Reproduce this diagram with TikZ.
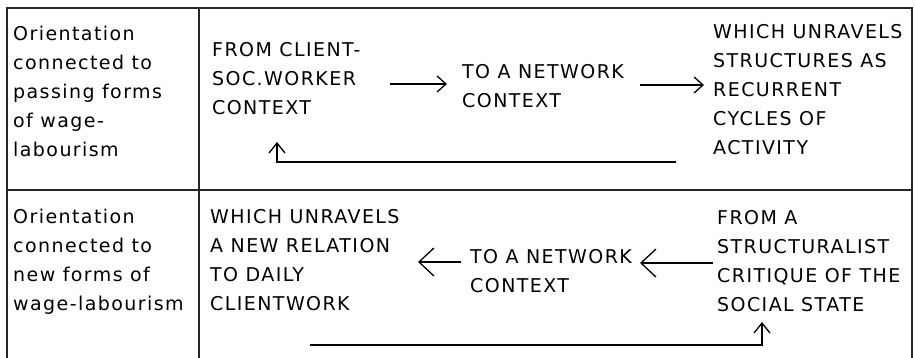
\documentclass[tikz,border=0pt]{standalone}
\usepackage{fontspec}
\newfontfamily\diafont[LetterSpace=7.5]{DejaVu Sans}
\usetikzlibrary{arrows.meta}
\begin{document}
\begin{tikzpicture}[x=1pt,y=-1pt,
  txt/.style={anchor=base west,inner sep=0pt,align=left,font=\diafont\fontsize{19}{29}\selectfont},
  rule/.style={line width=1.6pt,draw=black!85},
  arrsmall/.style={line width=1.3pt,-{Straight Barb[length=9pt,width=16pt,line width=1.3pt]}},
  arrbig/.style={line width=1.3pt,-{Straight Barb[length=15pt,width=28pt,line width=1.3pt]}},
  arrup/.style={line width=1.3pt,-{Straight Barb[length=10pt,width=16pt,line width=1.3pt]}}]
\useasboundingbox (0,0) rectangle (915,358);
% table rules
\draw[rule] (7,358) -- (7,8) -- (912,8) -- (912,358);
\draw[rule] (199,8) -- (199,358);
\draw[rule] (7,190) -- (912,190);
% top row (positions are the baselines of the last lines)
\node[txt] (o1) at (13,157) {Orientation\\connected to\\passing forms\\of wage-\\labourism};
\node[txt] (t1) at (212,115) {FROM CLIENT-\\SOC.WORKER\\CONTEXT};
\node[txt] (t2) at (462,108) {TO A NETWORK\\CONTEXT};
\node[txt] (t3) at (713,155) {WHICH UNRAVELS\\STRUCTURES AS\\RECURRENT\\CYCLES OF\\ACTIVITY};
% bottom row
\node[txt] (o2) at (13,310) {Orientation\\connected to\\new forms of\\wage-labourism};
\node[txt] (b1) at (210,310) {WHICH UNRAVELS\\A NEW RELATION\\TO DAILY\\CLIENTWORK};
\node[txt] (b2) at (470,292) {TO A NETWORK\\CONTEXT};
\node[txt] (b3) at (717,311) {FROM A\\STRUCTURALIST\\CRITIQUE OF THE\\SOCIAL STATE};
% arrow end points
\coordinate (a1s) at (390,84); \coordinate (a1e) at (447,84);
\coordinate (a2s) at (640,85); \coordinate (a2e) at (704,85);
\coordinate (f1s) at (676,162); \coordinate (f1c) at (277,162); \coordinate (f1e) at (277,142);
\coordinate (c1s) at (461,262); \coordinate (c1e) at (418,262);
\coordinate (c2s) at (713,263); \coordinate (c2e) at (640,263);
\coordinate (f2s) at (310,345); \coordinate (f2c) at (762,345); \coordinate (f2e) at (762,322);
\draw[arrsmall] (a1s) -- (a1e);
\draw[arrsmall] (a2s) -- (a2e);
\draw[arrup] (f1s) -- (f1c) -- (f1e);
\draw[arrbig] (c1s) -- (c1e);
\draw[arrbig] (c2s) -- (c2e);
\draw[arrup] (f2s) -- (f2c) -- (f2e);
\end{tikzpicture}
\end{document}
